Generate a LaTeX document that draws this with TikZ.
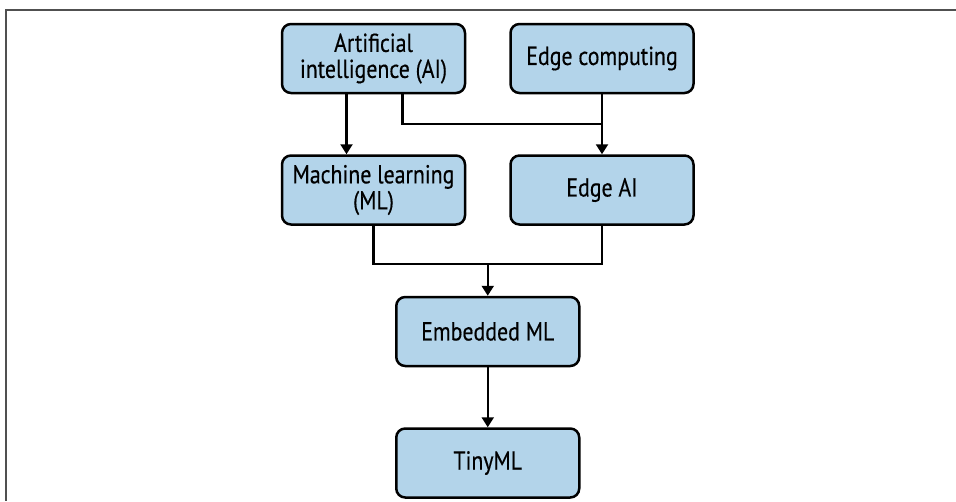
\documentclass[tikz,border=0pt]{standalone}
\usepackage{fontspec}
\setmainfont{PT Sans}[FakeStretch=0.84, FakeBold=0.4]
\usepackage{xcolor}
\usepackage{tikz}
\usetikzlibrary{arrows.meta,positioning,calc}

\definecolor{boxblue}{RGB}{179,212,234}
\definecolor{framegray}{RGB}{80,80,80}

\begin{document}
\begin{tikzpicture}[x=1pt, y=1pt, node distance=60pt, font=\fontsize{26}{26}\selectfont]
\tikzstyle{box}=[draw, line width=2.5pt, fill=boxblue, rounded corners=9pt, align=center, minimum width=183pt, minimum height=69pt, inner sep=2pt]
\tikzstyle{link}=[line width=2.2pt]
\tikzstyle{arr}=[link, -{Triangle[width=12pt,length=10pt]}]

\useasboundingbox (0,0) rectangle (956,-501);
\draw[framegray, line width=2pt] (956,-10) -- (5.5,-10) -- (5.5,-501);

\node[box] (ai) at (373.5,-58.5) {Artificial\\intelligence (AI)};
\node[box, right=43pt of ai] (edge) {Edge computing};
\node[box, below=of ai] (ml) {Machine learning\\(ML)};
\node[box, below=of edge] (edgeai) {Edge AI};

\coordinate (top) at ($(ml.south)!0.5!(edgeai.south)$);
\node[box, below=70pt of top] (embed) {Embedded ML};
\node[box, below=of embed] (tiny) {TinyML};

% AI feeds both ML and edge AI
\draw[arr] ([xshift=-27pt]ai.south) -- ([xshift=-27pt]ml.north);
\draw[link] ([xshift=29pt]ai.south) |- ([yshift=30pt]edgeai.north);
\draw[arr] (edge) -- (edgeai);

% ML and edge AI merge into embedded ML
\coordinate (join) at ([yshift=32pt]embed.north);
\draw[link] (ml.south) |- (join) -| (edgeai.south);
\draw[arr] (join) -- (embed);
\draw[arr] (embed) -- (tiny);
\end{tikzpicture}
\end{document}
